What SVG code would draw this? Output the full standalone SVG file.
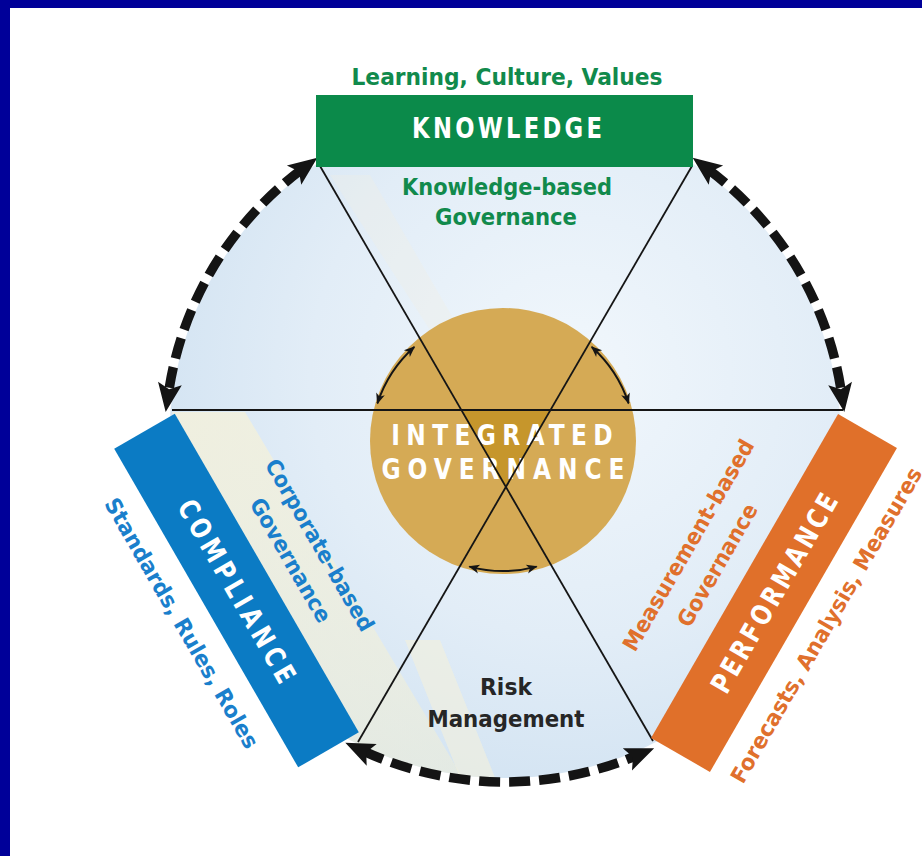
<svg xmlns="http://www.w3.org/2000/svg" width="922" height="856" viewBox="0 0 922 856">
<defs>
<style>
.t{font-family:"DejaVu Sans Condensed","Liberation Sans Narrow","Liberation Sans",Arial,sans-serif;font-weight:bold;text-anchor:middle}
.g{fill:#118a4c}
.b{fill:#1a7fcc}
.o{fill:#e0702c}
.w{fill:#ffffff}
.k{fill:#262626}
.hex{stroke:#151515;stroke-width:1.8;fill:none}
.dash{stroke:#141414;stroke-width:9.5;fill:none;stroke-dasharray:21 9}
.small{stroke:#151515;stroke-width:2;fill:none}
</style>
<radialGradient id="disc" cx="0.6" cy="0.4" r="0.65">
<stop offset="0" stop-color="#f1f7fc"/>
<stop offset="0.6" stop-color="#e2edf7"/>
<stop offset="1" stop-color="#d2e3f2"/>
</radialGradient>
<linearGradient id="cream" x1="0" y1="0" x2="1" y2="1">
<stop offset="0" stop-color="#f4f1dc" stop-opacity="0.85"/>
<stop offset="1" stop-color="#efeed8" stop-opacity="0.55"/>
</linearGradient>
<clipPath id="discClip"><circle cx="505" cy="442" r="336"/></clipPath>
<marker id="big" markerUnits="userSpaceOnUse" viewBox="-12 -13 36 26" refX="0" refY="0" markerWidth="36" markerHeight="26" orient="auto-start-reverse" overflow="visible">
<path d="M20,0 L-9,-12 L-3,0 L-9,12 Z" fill="#141414"/>
</marker>
<marker id="sm" markerUnits="userSpaceOnUse" viewBox="-12 -6 14 12" refX="0" refY="0" markerWidth="14" markerHeight="12" orient="auto-start-reverse" overflow="visible">
<path d="M1,0 L-10,-4.5 L-7,0 L-10,4.5 Z" fill="#151515"/>
</marker>
</defs>

<rect x="0" y="0" width="922" height="856" fill="#ffffff"/>

<g id="background">
<circle cx="505" cy="442" r="336" fill="url(#disc)"/>
<g clip-path="url(#discClip)">
<polygon points="172,412 245,412 470,790 360,790" fill="url(#cream)"/>
<polygon points="405,640 440,640 500,790 465,790" fill="#f3f0dc" opacity="0.6"/>
<polygon points="330,175 370,175 460,330 430,330" fill="#f2f0e0" opacity="0.3"/>
</g>
</g>

<g id="node-integrated">
<circle cx="503" cy="441" r="133" fill="#d5aa55"/>
<polygon points="461.3,410 550.5,410 505,487" fill="#c6962c"/>
<text class="t w" transform="translate(502,445) scale(0.9,1)" x="0" y="0" font-size="28.8" textLength="246" lengthAdjust="spacing">INTEGRATED</text>
<text class="t w" transform="translate(503,479) scale(0.9,1)" x="0" y="0" font-size="28.8" textLength="270" lengthAdjust="spacing">GOVERNANCE</text>
</g>

<g id="connectors">
<line class="hex" x1="172" y1="410" x2="843" y2="410"/>
<line class="hex" x1="320" y1="166" x2="653" y2="741"/>
<line class="hex" x1="692" y1="166" x2="358" y2="742"/>
<path class="dash" d="M301.3,169.8 A340,340 0 0 0 168.6,392.3" marker-start="url(#big)" marker-end="url(#big)"/>
<path class="dash" d="M708.7,169.8 A340,340 0 0 1 841.4,392.3" marker-start="url(#big)" marker-end="url(#big)"/>
<path class="dash" d="M363.5,751.1 A340,340 0 0 0 635.7,755.9" marker-start="url(#big)" marker-end="url(#big)"/>
<path class="small" d="M377.4,403.4 A130,130 0 0 1 414.3,347" marker-start="url(#sm)" marker-end="url(#sm)"/>
<path class="small" d="M591.7,347 A130,130 0 0 1 628.6,403.4" marker-start="url(#sm)" marker-end="url(#sm)"/>
<path class="small" d="M469.4,566.6 A130,130 0 0 0 536.6,566.6" marker-start="url(#sm)" marker-end="url(#sm)"/>
</g>

<g id="node-knowledge">
<rect x="316" y="95" width="377" height="72" fill="#0b8a4a"/>
<text class="t w" transform="translate(507,138) scale(0.9,1)" x="0" y="0" font-size="28" textLength="211" lengthAdjust="spacing">KNOWLEDGE</text>
<text class="t g" x="507" y="85" font-size="23" textLength="311" lengthAdjust="spacingAndGlyphs">Learning, Culture, Values</text>
<text class="t g" x="507" y="195" font-size="23" textLength="210" lengthAdjust="spacingAndGlyphs">Knowledge-based</text>
<text class="t g" x="506" y="225" font-size="23" textLength="142" lengthAdjust="spacingAndGlyphs">Governance</text>
</g>

<g id="node-compliance">
<rect x="-184" y="-35" width="368" height="70" fill="#0b7bc4" transform="translate(236.5,590.5) rotate(60)"/>
<text class="t w" transform="translate(237,591) rotate(60) scale(0.9,1)" x="0" y="10" font-size="28" textLength="230" lengthAdjust="spacing">COMPLIANCE</text>
<text class="t b" transform="translate(182,623) rotate(60)" x="0" y="8" font-size="22" textLength="285" lengthAdjust="spacingAndGlyphs">Standards, Rules, Roles</text>
<text class="t b" transform="translate(320,545) rotate(60)" x="0" y="8" font-size="22" textLength="195" lengthAdjust="spacingAndGlyphs">Corporate-based</text>
<text class="t b" transform="translate(291,560) rotate(60)" x="0" y="8" font-size="22" textLength="140" lengthAdjust="spacingAndGlyphs">Governance</text>
</g>

<g id="node-performance">
<rect x="-187" y="-34" width="374" height="68" fill="#e0702a" transform="translate(774,593) rotate(-60)"/>
<text class="t w" transform="translate(774,593) rotate(-60) scale(0.9,1)" x="0" y="10" font-size="28" textLength="250" lengthAdjust="spacing">PERFORMANCE</text>
<text class="t o" transform="translate(826,625) rotate(-60)" x="0" y="8" font-size="22" textLength="360" lengthAdjust="spacingAndGlyphs">Forecasts, Analysis, Measures</text>
<text class="t o" transform="translate(688,545) rotate(-60)" x="0" y="8" font-size="22" textLength="240" lengthAdjust="spacingAndGlyphs">Measurement-based</text>
<text class="t o" transform="translate(717,565) rotate(-60)" x="0" y="8" font-size="22" textLength="138" lengthAdjust="spacingAndGlyphs">Governance</text>
</g>

<g id="node-risk">
<text class="t k" x="506" y="695" font-size="23" textLength="52" lengthAdjust="spacingAndGlyphs">Risk</text>
<text class="t k" x="506" y="727" font-size="23" textLength="157" lengthAdjust="spacingAndGlyphs">Management</text>
</g>

<g id="frame">
<rect x="0" y="0" width="922" height="8" fill="#000099"/>
<rect x="0" y="0" width="10" height="856" fill="#000099"/>
</g>
</svg>
